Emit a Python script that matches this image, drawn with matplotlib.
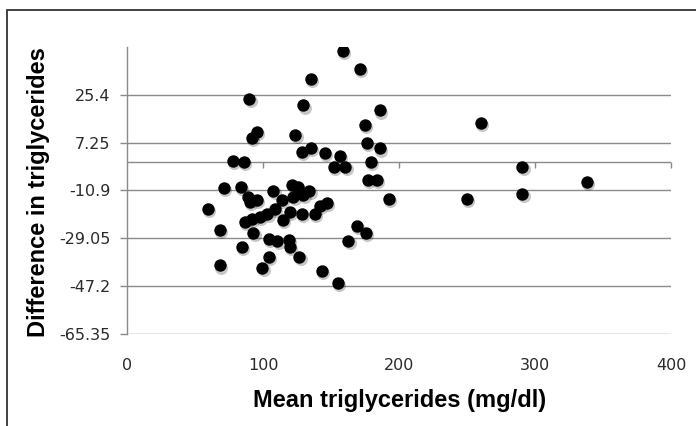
import matplotlib
matplotlib.use("Agg")
import matplotlib.pyplot as plt
import matplotlib.transforms as mtransforms
from matplotlib.patches import Rectangle

# mean of the two measurements (mg/dl) and their difference
mean_tg = [260.3, 290.7, 290.7, 338.2, 249.8, 158.6, 171.1, 135.1, 129.6, 186.0,
           175.0, 123.8, 176.3, 186.0, 135.1, 128.5, 145.6, 156.6, 179.2, 152.2,
           160.5, 177.0, 183.8, 192.6, 134.0, 129.6, 146.8, 141.9, 138.2, 128.5,
           119.9, 168.9, 175.7, 162.7, 126.7, 143.2, 154.9, 89.9, 95.6, 91.9,
           77.9, 86.0, 71.3, 83.8, 59.2, 68.4, 89.2, 90.4, 95.4, 107.6,
           113.8, 121.5, 125.5, 122.3, 108.8, 114.5, 86.8, 91.7, 97.8, 103.2,
           92.9, 104.4, 110.5, 119.1, 119.9, 84.3, 104.4, 68.4, 99.5]
diff_tg = [14.8, -2.1, -12.2, -7.8, -14.2, 41.9, 35.0, 31.2, 21.3, 19.4,
           13.9, 10.1, 7.1, 5.0, 5.2, 3.7, 3.3, 2.2, -0.1, -2.0,
           -2.0, -7.0, -7.0, -14.2, -11.1, -12.7, -15.6, -16.9, -19.9, -19.9,
           -19.1, -24.2, -27.0, -30.0, -36.1, -41.2, -46.0, 23.9, 11.3, 9.0,
           0.2, -0.2, -10.0, -9.7, -17.9, -25.7, -13.4, -15.3, -14.6, -11.1,
           -14.6, -8.7, -9.6, -13.4, -17.8, -21.9, -22.8, -21.8, -21.0, -19.7,
           -27.0, -29.1, -30.0, -29.8, -32.3, -32.3, -36.1, -39.3, -40.1]

y_ticks = [-65.35, -47.2, -29.05, -10.9, 7.25, 25.4]
y_labels = ["-65.35", "-47.2", "-29.05", "-10.9", "7.25", "25.4"]
x_ticks = [0, 100, 200, 300, 400]
Y_MIN, Y_MAX = -65.35, 43.55

GRID = "#8a8a8a"
TEXT = "#2a2a2a"

fig = plt.figure(figsize=(6.96, 4.26), dpi=100)
ax = fig.add_axes([0.1825, 0.2153, 0.7815, 0.6751])

# outer chart frame (cut off at right and bottom like the source)
fig.patches.append(Rectangle((7 / 696, -0.1), 1.2, 1 - 10 / 426 + 0.1,
                             transform=fig.transFigure, fill=False,
                             edgecolor="#333333", linewidth=1.3))

ax.set_xlim(0, 400)
ax.set_ylim(Y_MIN, Y_MAX)

for v in y_ticks:
    ax.axhline(v, color=GRID, linewidth=1.0, zorder=1)

# horizontal axis crossing at zero, with small downward tick marks
ax.axhline(0, color=GRID, linewidth=1.0, zorder=1)
ax.plot(x_ticks[1:], [0] * len(x_ticks[1:]), linestyle="none", marker=3,
        markersize=4, markeredgewidth=1.0, color=GRID, zorder=1, clip_on=False)

# soft shadow under the markers
shadow = mtransforms.offset_copy(ax.transData, fig=fig, x=1.0, y=-1.5, units="points")
ax.scatter(mean_tg, diff_tg, s=88, color="#000000", alpha=0.22, linewidths=0,
           transform=shadow, zorder=2)
ax.scatter(mean_tg, diff_tg, s=80, color="black", linewidths=0, zorder=3)

for side in ["top", "right", "bottom"]:
    ax.spines[side].set_visible(False)
ax.spines["left"].set_color(GRID)
ax.spines["left"].set_linewidth(1.0)

ax.set_yticks(y_ticks, labels=y_labels)
ax.tick_params(axis="y", direction="out", length=5, width=1.0, color=GRID,
               pad=7, labelsize=11.5, labelcolor=TEXT)
ax.set_xticks(x_ticks, labels=[str(t) for t in x_ticks])
ax.tick_params(axis="x", length=0, pad=17, labelsize=11.5, labelcolor=TEXT)

fig.text(400 / 696, 1 - 400 / 426, "Mean triglycerides (mg/dl)",
         family="Liberation Sans", fontweight="bold", fontsize=17,
         ha="center", va="center")
fig.text(39 / 696, 1 - 192 / 426, "Difference in triglycerides",
         family="Liberation Sans", fontweight="bold", fontsize=17,
         rotation=90, ha="center", va="center")

fig.savefig("out.png", dpi=100)
